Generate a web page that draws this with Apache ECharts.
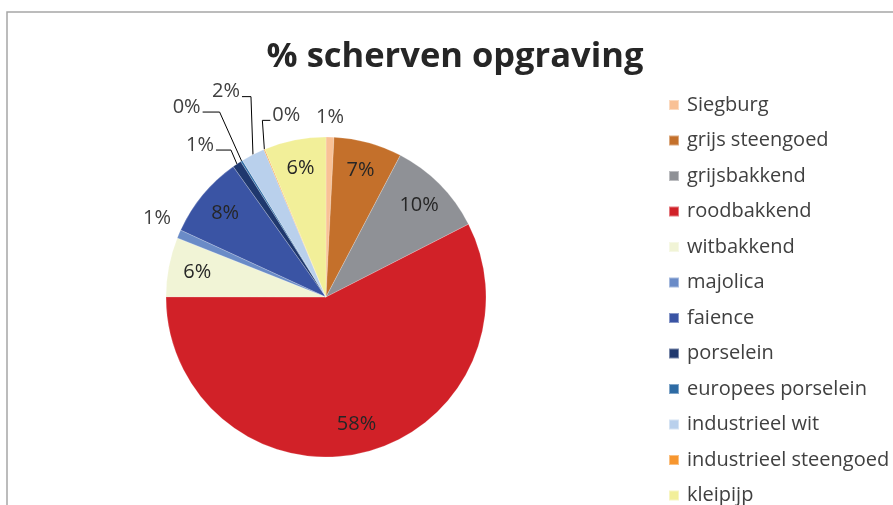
<!DOCTYPE html>
<html>
<head>
<meta charset="utf-8">
<script src="https://cdn.jsdelivr.net/npm/echarts@6/dist/echarts.min.js"></script>
<style>
	html, body { margin: 0; padding: 0; background: #fff; }
	#chart { width: 893px; height: 505px; }
</style>
</head>
<body>
<div id="chart"></div>
<script>
var categories = ['Siegburg', 'grijs steengoed', 'grijsbakkend', 'roodbakkend', 'witbakkend', 'majolica',
	'faience', 'porselein', 'europees porselein', 'industrieel wit', 'industrieel steengoed', 'kleipijp'];
var shares = [0.8, 6.9, 9.8, 57.6, 6.0, 0.85, 8.3, 0.9, 0.2, 2.4, 0.1, 6.25];
var colors = ['#F9C196', '#C4702B', '#8F9196', '#D12128', '#F1F4D6', '#6A8BC7',
	'#3A54A4', '#1F386E', '#2E6BA4', '#B9D0EC', '#F7962F', '#F2EF99'];

var R = 160;
var font = '"Open Sans", Lato, sans-serif';

// plaatsing van de labels buiten de taart (t.o.v. de rand van de schijf)
// bend: knik van de lijn, run: horizontaal stuk (teken = richting)
var outer = {
	'Siegburg' : { bend : [ 0, -20 ], run : 0, line : false },
	'majolica' : { bend : [ -22, -16 ], run : 0, line : false },
	'porselein' : { bend : [ -6, -14 ], run : -15, line : true },
	'europees porselein' : { bend : [ -22, -49 ], run : -17, line : true },
	'industrieel wit' : { bend : [ -2, -58 ], run : -9, line : true },
	'industrieel steengoed' : { bend : [ -2, -29 ], run : 8, line : true }
};

var mainData = categories.map(function(name, i) {
	var o = outer[name];
	return {
		name : name,
		value : shares[i],
		itemStyle : { color : colors[i] },
		label : { show : !!o },
		labelLine : {
			show : !!o,
			lineStyle : { color : o && o.line ? '#000' : 'transparent' }
		}
	};
});

var ringData = categories.map(function(name, i) {
	return {
		name : name,
		value : shares[i],
		label : { show : !outer[name] }
	};
});

function pct(p) {
	return Math.round(p.value) + '%';
}

echarts.init(document.getElementById('chart')).setOption({
	animation : false,
	title : {
		text : '% scherven opgraving',
		left : 450,
		top : 35,
		textAlign : 'center',
		textStyle : {
			fontFamily : font,
			fontSize : 34.5,
			fontWeight : 'bold',
			color : '#262626'
		}
	},
	legend : {
		orient : 'vertical',
		left : 668,
		top : 95,
		height : 480,
		padding : 0,
		data : categories,
		icon : 'rect',
		itemWidth : 10,
		itemHeight : 10,
		itemGap : 15.5,
		textStyle : {
			fontFamily : font,
			fontSize : 20,
			lineHeight : 20,
			color : '#404040',
			padding : [ 0, 0, 0, 3 ]
		}
	},
	graphic : [ {
		type : 'rect',
		shape : { x : 7, y : 12, width : 1000, height : 600 },
		style : { fill : 'none', stroke : '#a6a6a6', lineWidth : 1.5 },
		silent : true
	} ],
	series : [ {
		type : 'pie',
		center : [ 326, 297 ],
		radius : [ 0, R ],
		startAngle : 90,
		avoidLabelOverlap : false,
		data : mainData,
		itemStyle : { borderColor : 'rgba(255,255,255,0.4)', borderWidth : 0.5 },
		label : {
			position : 'outside',
			formatter : pct,
			fontFamily : font,
			fontSize : 20,
			color : '#404040'
		},
		labelLine : {
			length : 10,
			length2 : 5,
			lineStyle : { width : 1 }
		},
		labelLayout : function(params) {
			var o = outer[categories[params.dataIndex]];
			var pts = params.labelLinePoints;
			if (!o || !pts) {
				return {};
			}
			var edge = pts[0];
			var bend = [ edge[0] + o.bend[0], edge[1] + o.bend[1] ];
			if (!o.line) {
				return {
					x : bend[0],
					y : bend[1],
					align : 'center',
					verticalAlign : 'middle'
				};
			}
			var end = [ bend[0] + o.run, bend[1] ];
			var dir = o.run < 0 ? -1 : 1;
			return {
				x : end[0] + dir * 2,
				y : end[1] - 5,
				align : dir < 0 ? 'right' : 'left',
				verticalAlign : 'middle',
				labelLinePoints : [ edge, bend, end ]
			};
		}
	}, {
		type : 'pie',
		center : [ 326, 297 ],
		radius : [ R * 0.6, R ],
		startAngle : 90,
		silent : true,
		data : ringData,
		itemStyle : { color : 'transparent' },
		label : {
			position : 'inside',
			formatter : pct,
			fontFamily : font,
			fontSize : 20,
			color : '#262626'
		},
		labelLine : { show : false }
	} ]
});
</script>
</body>
</html>
